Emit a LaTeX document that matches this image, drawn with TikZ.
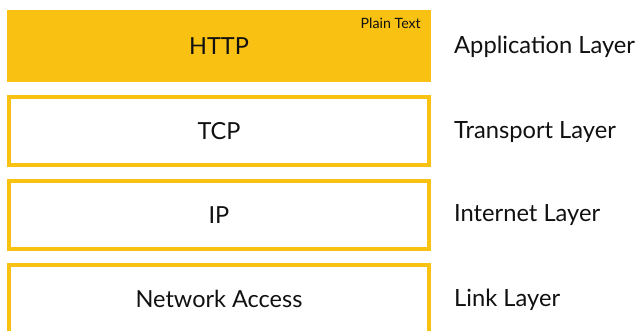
\documentclass[tikz,border=0pt]{standalone}
\usepackage{fontspec}
\setmainfont{Lato}
\definecolor{ybar}{HTML}{F9C112}
\definecolor{txt}{HTML}{111111}
\begin{document}
\begin{tikzpicture}[x=1pt,y=-1pt,
  layer/.style={rectangle, minimum width=420pt, minimum height=67.5pt, inner sep=0pt,
    draw=ybar, line width=4pt, text=txt, font=\fontsize{23.5}{28}\selectfont},
  filled/.style={rectangle, minimum width=424pt, minimum height=72pt, inner sep=0pt,
    fill=ybar, text=txt, font=\fontsize{23.5}{28}\selectfont},
  lbl/.style={anchor=west, inner sep=0pt, text=txt, font=\fontsize{23.7}{28}\selectfont},
  small/.style={anchor=north east, inner sep=0pt, text=txt, font=\fontsize{14.2}{17}\selectfont}]
\clip (0,0) rectangle (637,331);
\fill[white] (0,0) rectangle (637,331);
\node[filled] (http) at (219,46.5) {HTTP};
\node[small] (plain) at (421,17.5) {Plain Text};
\node[layer] (tcp) at (219,131) {TCP};
\node[layer] (ip) at (219,215.2) {IP};
\node[layer] (na) at (219,299.2) {Network Access};
\node[lbl] (app) at (454,47) {Application Layer};
\node[lbl] (trans) at (454,132) {Transport Layer};
\node[lbl] (inet) at (454,215) {Internet Layer};
\node[lbl] (link) at (454,300) {Link Layer};
\end{tikzpicture}
\end{document}
